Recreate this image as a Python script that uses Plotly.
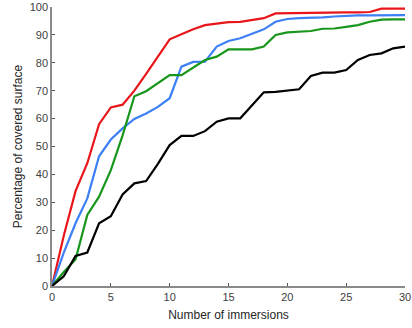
import plotly.graph_objects as go

immersions = list(range(0, 31))
red = [0, 18, 34, 44, 58, 64, 65, 70, 76, 82, 88.4, 90.2, 92, 93.5, 94, 94.6, 94.7, 95.3, 96, 97.7, 97.8, 97.9, 97.9, 98, 98, 98.1, 98.1, 98.2, 99.4, 99.4, 99.4]
blue = [0, 12, 22.5, 31.4, 46.5, 52.5, 56.5, 59.9, 61.8, 64.2, 67.3, 78.6, 80.3, 80.4, 85.8, 87.8, 88.8, 90.5, 92, 94.7, 95.7, 96, 96.1, 96.3, 96.6, 96.9, 97, 97, 97.1, 97.1, 97.1]
green = [0, 5, 9.5, 25.5, 32, 41.5, 54, 68, 69.8, 72.8, 75.6, 75.6, 78.2, 81, 82.2, 84.8, 84.8, 84.8, 85.8, 90, 90.9, 91.1, 91.4, 92.2, 92.3, 92.9, 93.5, 94.7, 95.5, 95.6, 95.6]
black = [0, 3.5, 10.8, 12, 22.5, 25, 32.8, 36.8, 37.6, 43.8, 50.5, 53.8, 53.8, 55.5, 58.9, 60.1, 60.1, 64.9, 69.4, 69.6, 70, 70.5, 75.3, 76.5, 76.5, 77.4, 81, 82.8, 83.4, 85.2, 85.8]

series = [
    ("red", red, "#e8161b"),
    ("blue", blue, "#3d7ff5"),
    ("green", green, "#18961c"),
    ("black", black, "#000000"),
]

fig = go.Figure()
for name, vals, col in series:
    fig.add_trace(go.Scatter(x=immersions, y=vals, mode="lines", name=name,
                             line=dict(color=col, width=2.2), cliponaxis=False))

axis_common = dict(
    showgrid=False, zeroline=False, showline=True, linecolor="#8a8a8a", linewidth=1.5,
    ticks="inside", ticklen=3, tickcolor="#555555", tickwidth=1, automargin=False,
    tickfont=dict(family="Liberation Sans, Arial, sans-serif", size=11, color="#404040"),
)

fig.update_layout(
    width=412, height=328,
    margin=dict(l=52, r=7, t=7, b=42, autoexpand=False),
    paper_bgcolor="white", plot_bgcolor="white",
    showlegend=False,
    font=dict(family="Liberation Sans, Arial, sans-serif", color="#262626"),
    xaxis=dict(range=[0, 30], tickvals=[0, 5, 10, 15, 20, 25, 30],
               title=dict(text="Number of immersions", font=dict(size=12, color="#262626"), standoff=9),
               **axis_common),
    yaxis=dict(range=[0, 100], tickvals=list(range(0, 101, 10)),
               title=dict(text="Percentage of covered surface", font=dict(size=12, color="#262626"), standoff=4),
               **axis_common),
)

fig.write_html("out.html", config={"displayModeBar": False},
               post_script="document.body.style.margin='0';document.body.style.padding='0';")
